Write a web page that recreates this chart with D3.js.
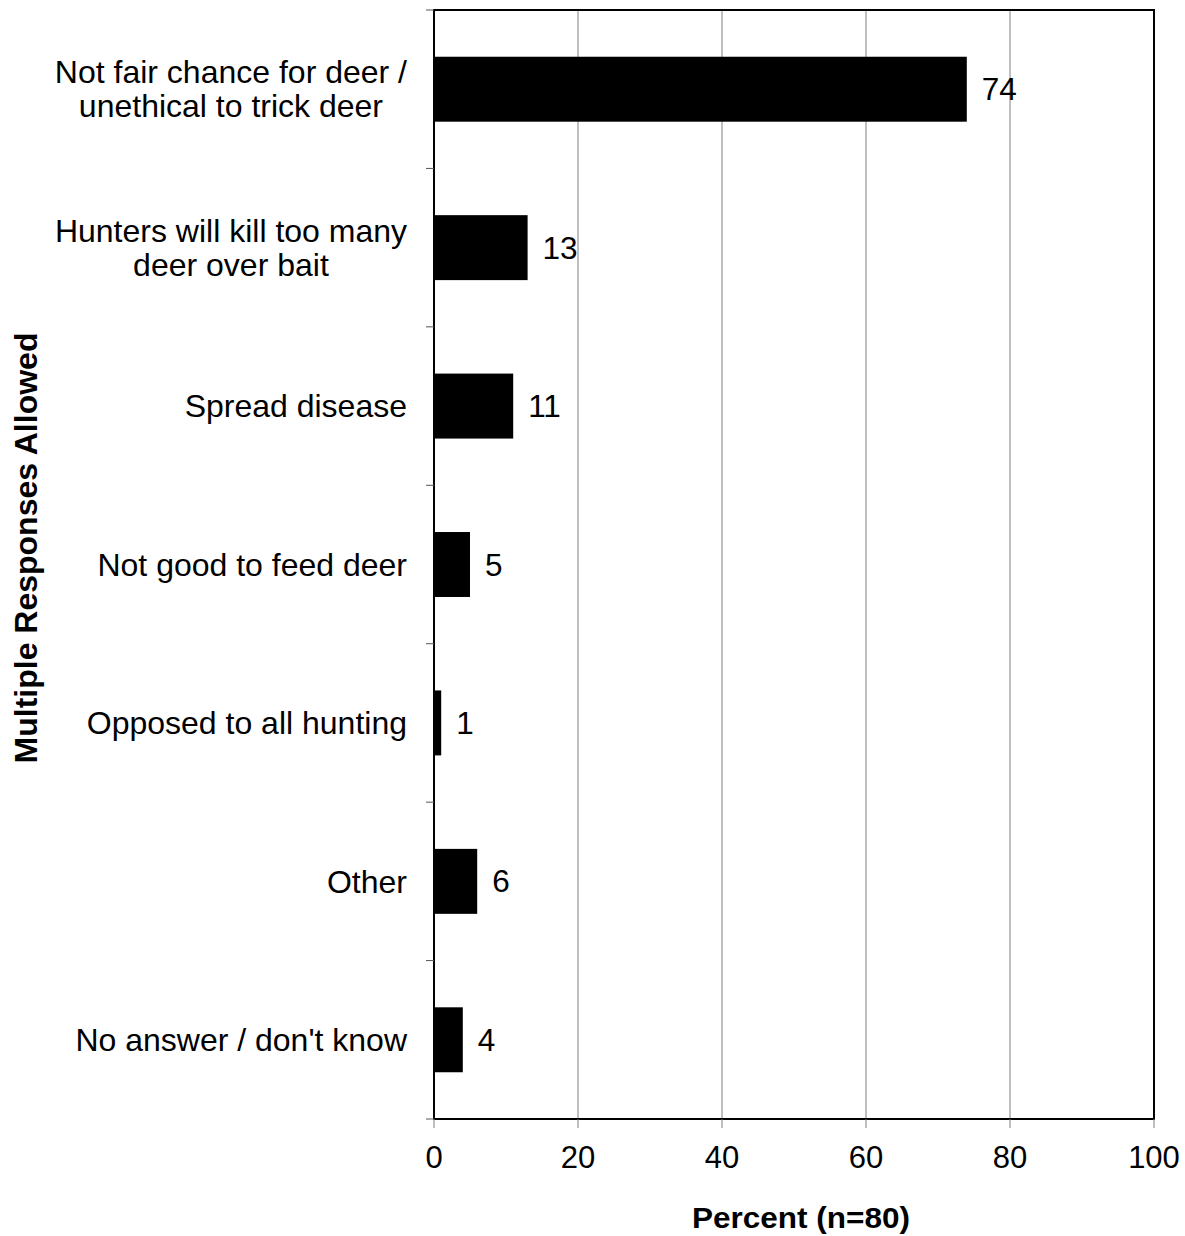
<!DOCTYPE html>
<html><head><meta charset="utf-8">
<script src="https://cdn.jsdelivr.net/npm/d3@7"></script>
<style>body{margin:0;background:#fff}svg{display:block}text{font-family:"Liberation Sans",Arial,sans-serif}</style>
</head><body>
<svg id="c" width="1185" height="1236"></svg>
<script>
const categories = [
  ["Not fair chance for deer /", "unethical to trick deer"],
  ["Hunters will kill too many", "deer over bait"],
  ["Spread disease"],
  ["Not good to feed deer"],
  ["Opposed to all hunting"],
  ["Other"],
  ["No answer / don't know"]
];
const values = [74, 13, 11, 5, 1, 6, 4];
const xTicks = [0, 20, 40, 60, 80, 100];
const xTitle = "Percent (n=80)";
const yTitle = "Multiple Responses Allowed";

const svg = d3.select("#c");
const L = 434, R = 1154, T = 10, B = 1119;
const x = d3.scaleLinear().domain([0, 100]).range([L, R]);
const y = d3.scaleBand().domain(d3.range(categories.length)).range([T, B]).paddingInner(0.59).paddingOuter(0.295);
const yb = d3.scaleBand().domain(d3.range(categories.length)).range([T, B]);

// gridlines
svg.append("g").selectAll("line").data(xTicks.filter(d => d > 0 && d < 100)).join("line")
  .attr("x1", d => x(d)).attr("x2", d => x(d)).attr("y1", T).attr("y2", B)
  .attr("stroke", "#808080").attr("stroke-width", 1);

// bars
svg.append("g").selectAll("rect").data(values).join("rect")
  .attr("x", x(0)).attr("y", (d, i) => y(i)).attr("width", d => x(d) - x(0)).attr("height", y.bandwidth())
  .attr("fill", "#000");

// value labels
svg.append("g").selectAll("text").data(values).join("text")
  .attr("x", d => x(d) + 15).attr("y", (d, i) => y(i) + y.bandwidth() / 2)
  .attr("dy", "0.35em").attr("font-size", 31.5).attr("fill", "#000").text(d => d);

// frame
svg.append("rect").attr("x", L).attr("y", T).attr("width", R - L).attr("height", B - T)
  .attr("fill", "none").attr("stroke", "#000").attr("stroke-width", 2);

// y tick marks at band boundaries
const yEdges = d3.range(categories.length + 1).map(i => i < categories.length ? yb(i) : B);
svg.append("g").selectAll("line").data(yEdges).join("line")
  .attr("x1", L - 8).attr("x2", L).attr("y1", d => d).attr("y2", d => d)
  .attr("stroke", "#555").attr("stroke-width", 1);

// x axis ticks + labels
const xa = svg.append("g");
xa.selectAll("line").data(xTicks).join("line")
  .attr("x1", d => x(d)).attr("x2", d => x(d)).attr("y1", B).attr("y2", B + 9)
  .attr("stroke", "#808080").attr("stroke-width", 1);
xa.selectAll("text").data(xTicks).join("text")
  .attr("x", d => x(d)).attr("y", B + 49).attr("text-anchor", "middle")
  .attr("font-size", 31).text(d => d);

// category labels (multi-line blocks: lines centred, block right-aligned)
svg.append("g").selectAll("text").data(categories).join("text")
  .attr("font-size", 32)
  .attr("transform", (d, i) => `translate(407,${yb(i) + yb.bandwidth() / 2})`)
  .each(function(lines) {
    const t = d3.select(this);
    const lh = 34;
    const spans = lines.map((s, k) =>
      t.append("tspan").attr("y", (k - (lines.length - 1) / 2) * lh).attr("dy", "0.35em").text(s));
    if (lines.length === 1) {
      t.attr("text-anchor", "end");
      spans[0].attr("x", 0);
    } else {
      const w = d3.max(spans, sp => sp.node().getComputedTextLength());
      t.attr("text-anchor", "middle");
      spans.forEach(sp => sp.attr("x", -w / 2));
    }
  });

// axis titles
svg.append("text").attr("x", 801).attr("y", 1228).attr("text-anchor", "middle")
  .attr("font-size", 29).attr("font-weight", "bold")
  .attr("textLength", 218).attr("lengthAdjust", "spacingAndGlyphs").text(xTitle);
svg.append("text").attr("transform", `translate(37,548) rotate(-90)`).attr("text-anchor", "middle")
  .attr("font-size", 32).attr("font-weight", "bold").text(yTitle);
</script>
</body></html>
